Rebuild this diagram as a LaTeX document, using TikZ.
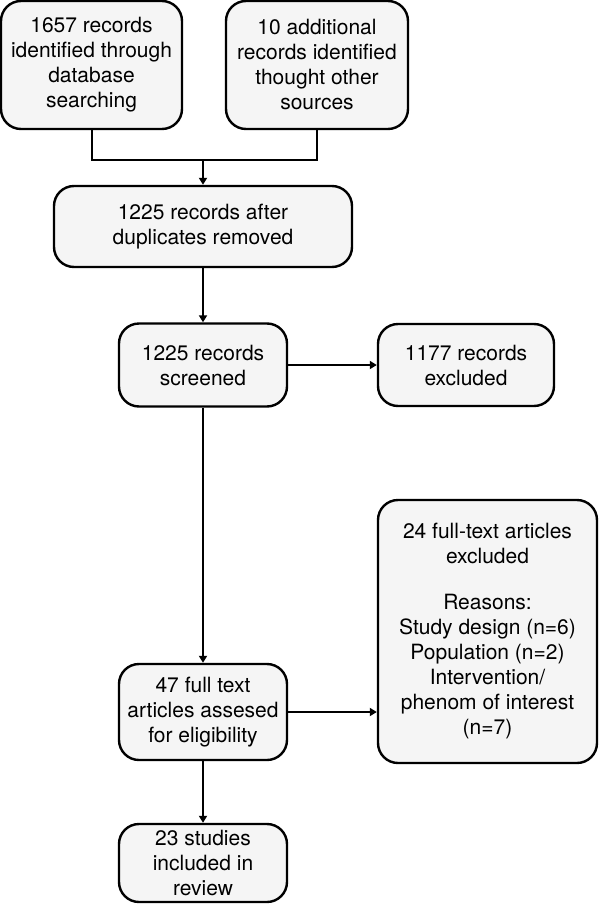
\documentclass[tikz,border=0pt]{standalone}
\usepackage{fontspec}
\setmainfont{TeX Gyre Heros}
\usetikzlibrary{arrows.meta,positioning}

\begin{document}
\begin{tikzpicture}[x=1pt, y=-1pt,
  box/.style={draw, line width=2.4pt, rounded corners=20pt, fill=black!4,
              align=center, inner sep=0pt, font=\fontsize{21}{25}\selectfont},
  link/.style={line width=2pt},
  flow/.style={line width=2pt, -{Triangle[length=7pt,width=8pt]}},
]
\useasboundingbox (0,0) rectangle (599,905);

\node[box, minimum width=181pt, minimum height=128pt] (dbs) at (91.5,65)
  {1657 records\\identified through\\database\\searching};
\node[box, minimum width=182pt, minimum height=128pt] (oth) at (317,65)
  {10 additional\\records identified\\thought other\\sources};
\node[box, minimum width=298pt, minimum height=81pt] (dup) at (203,226.5)
  {1225 records after\\duplicates removed};
\node[box, minimum width=168pt, minimum height=83pt] (scr) at (203,365)
  {1225 records\\screened};
\node[box, minimum width=176pt, minimum height=82pt] (exc) at (466,365)
  {1177 records\\excluded};
\node[box, minimum width=168pt, minimum height=96pt] (elig) at (203,712)
  {47 full text\\articles assesed\\for eligibility};
\node[box, minimum width=219pt, minimum height=263pt] (ftx) at (487.5,631.5)
  {24 full-text articles\\excluded\\[21pt]Reasons:\\Study design (n=6)\\Population (n=2)\\Intervention/\\phenom of interest\\(n=7)};
\node[box, minimum width=168pt, minimum height=78pt] (inc) at (203,863)
  {23 studies\\included in\\review};

\coordinate (jn) at (203,160);
\draw[link] (dbs) |- (jn) -| (oth);
\draw[flow] (jn) -- (dup);

\foreach \a/\b in {dup/scr, scr/exc, scr/elig, elig/inc} {
  \draw[flow] (\a) -- (\b);
}
\draw[flow] (elig) -- (elig -| ftx.west);

\end{tikzpicture}
\end{document}
